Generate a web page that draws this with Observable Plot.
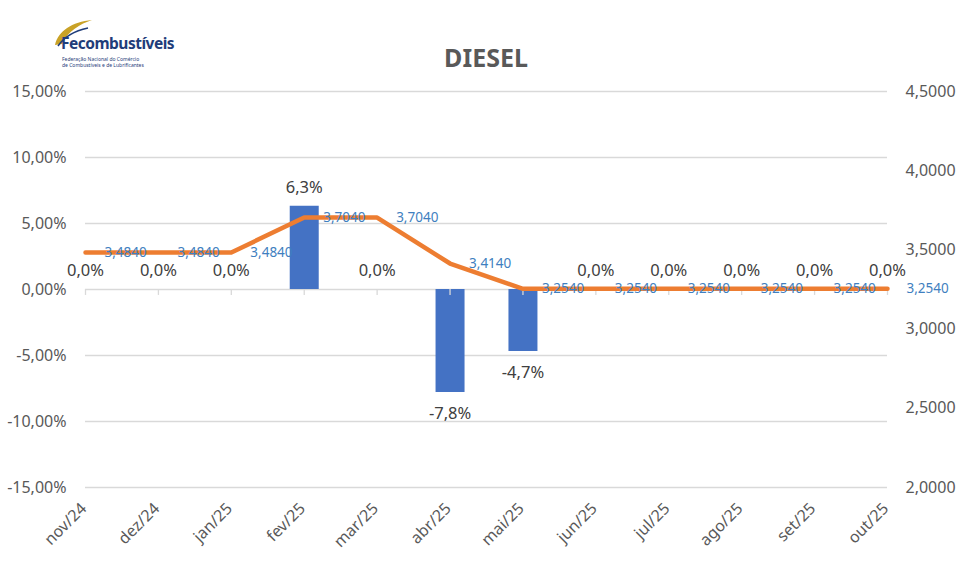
<!DOCTYPE html>
<html>
<head>
<meta charset="utf-8">
<script src="https://cdn.jsdelivr.net/npm/d3@7"></script>
<script src="https://cdn.jsdelivr.net/npm/@observablehq/plot@0.6"></script>
<style>
  html, body { margin: 0; padding: 0; background: #fff; }
  #wrap { position: relative; width: 962px; height: 567px; overflow: hidden; font-family: "Noto Sans", sans-serif; }
  #header { position: relative; width: 962px; height: 70px; }
  #title { position: absolute; left: 386px; width: 200px; top: 45px; text-align: center; font-size: 25px; line-height: 1; font-weight: bold; color: #595959; }
  #logo-name { position: absolute; left: 61px; top: 36px; font-size: 15.5px; line-height: 1; font-weight: bold; color: #1f3d7a; letter-spacing: -0.5px; }
  #logo-sub { position: absolute; left: 62px; top: 56px; font-size: 5px; line-height: 6px; color: #1f3d7a; }
  #logo-mark { position: absolute; left: 0; top: 0; }
</style>
</head>
<body>
<div id="wrap">
  <div id="header">
    <svg id="logo-mark" width="120" height="50">
      <path d="M55,45 C58,31 72,22 92,20 C80,24 68,31 62,44 Z" fill="#c9a227"/>
      <path d="M58,46 C64,37 74,31 88,28" fill="none" stroke="#1f3d7a" stroke-width="1.5"/>
    </svg>
    <div id="logo-name">Fecombustíveis</div>
    <div id="logo-sub">Federação Nacional do Comércio<br>de Combustíveis e de Lubrificantes</div>
    <div id="title">DIESEL</div>
  </div>
  <div id="chart"></div>
</div>
<script>
const months = ["nov/24","dez/24","jan/25","fev/25","mar/25","abr/25","mai/25","jun/25","jul/25","ago/25","set/25","out/25"];
const variation = [0, 0, 0, 6.3, 0, -7.8, -4.7, 0, 0, 0, 0, 0];
const price = [3.484, 3.484, 3.484, 3.704, 3.704, 3.414, 3.254, 3.254, 3.254, 3.254, 3.254, 3.254];
const leftTicks = [-15, -10, -5, 0, 5, 10, 15];
const rightTicks = [2, 2.5, 3, 3.5, 4, 4.5];

const leftDomain = [-15, 15];
const rightDomain = [2, 4.5];
const toLeft = v => leftDomain[0] + (v - rightDomain[0]) / (rightDomain[1] - rightDomain[0]) * (leftDomain[1] - leftDomain[0]);
const fromLeft = v => rightDomain[0] + (v - leftDomain[0]) / (leftDomain[1] - leftDomain[0]) * (rightDomain[1] - rightDomain[0]);

const data = months.map((m, i) => ({ i, month: m, pct: variation[i], price: price[i], py: toLeft(price[i]) }));
const idx = months.map((m, i) => i);

const comma = s => s.replace(".", ",");
const gray = "#595959";

const chart = Plot.plot({
  width: 962,
  height: 497,
  marginTop: 21,
  marginBottom: 80,
  marginLeft: 85,
  marginRight: 75,
  style: { fontFamily: "Noto Sans, sans-serif", fontSize: "16px", background: "#fff" },
  x: { domain: [0, months.length - 1], axis: null },
  y: { domain: leftDomain, axis: null },
  marks: [
    Plot.ruleY(leftTicks, { y: d => d, stroke: "#d9d9d9", strokeWidth: 1.3 }),
    Plot.axisY(leftTicks, { anchor: "left", tickSize: 0, tickPadding: 19, fontSize: 16, color: gray,
      tickFormat: d => comma(d.toFixed(2)) + "%" }),
    Plot.axisY(rightTicks.map(toLeft), { anchor: "right", tickSize: 0, tickPadding: 18, fontSize: 16, color: gray,
      tickFormat: d => comma(fromLeft(d).toFixed(4)) }),
    Plot.ruleX(data, { x: "i", y1: 0, y2: "pct", stroke: "#4472c4", strokeWidth: 29 }),
    Plot.ruleX(idx, { x: d => d, y1: 0, y2: -0.45, stroke: "#d9d9d9", strokeWidth: 1.3 }),
    Plot.line(data, { x: "i", y: "py", stroke: "#ed7d31", strokeWidth: 4.5, strokeLinejoin: "round" }),
    Plot.text(data, { x: "i", y: "py", text: d => comma(d.price.toFixed(4)), dx: 19, textAnchor: "start",
      fill: "#3f7fc0", fontSize: 13.5 }),
    Plot.text(data.filter(d => d.pct >= 0), { x: "i", y: "pct", text: d => comma(d.pct.toFixed(1)) + "%",
      dy: -19, fill: "#404040", fontSize: 16.5 }),
    Plot.text(data.filter(d => d.pct < 0), { x: "i", y: "pct", text: d => comma(d.pct.toFixed(1)) + "%",
      dy: 21, fill: "#404040", fontSize: 16.5 }),
    Plot.text(data, { x: "i", frameAnchor: "bottom", text: "month", dy: 22, dx: 2, rotate: -45,
      textAnchor: "end", fill: gray, fontSize: 16 })
  ]
});
document.getElementById("chart").appendChild(chart);
</script>
</body>
</html>
